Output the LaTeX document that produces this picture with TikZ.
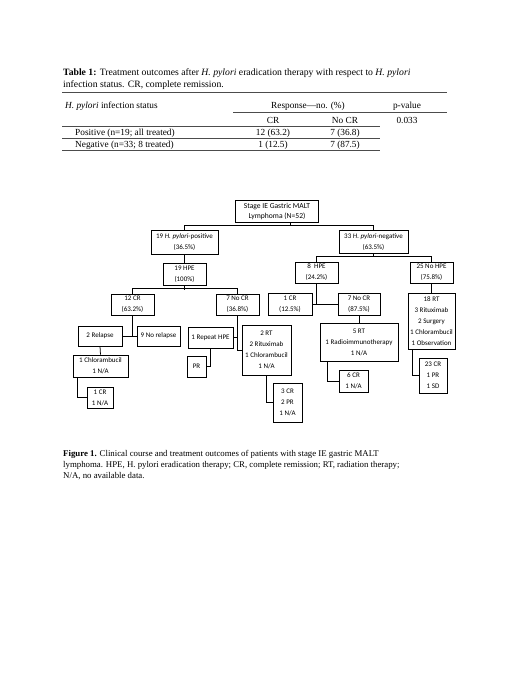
\documentclass[tikz,border=0pt]{standalone}
\usepackage{fontspec}
\setmainfont{Liberation Serif}
\newfontfamily\boxfont{Carlito}
\begin{document}
\begin{tikzpicture}[x=1pt,y=-1pt,
  bx/.style={draw, line width=0.75pt, inner sep=0pt, align=center, font=\boxfont\fontsize{7}{11}\selectfont},
  ln/.style={line width=0.75pt},
  rl/.style={line width=0.6pt, draw=black!70},
  tx/.style={inner sep=0pt, font=\fontsize{9.3}{11}\selectfont},
  captxt/.style={inner sep=0pt, anchor=base west},
]
\fill[white] (0,0) rectangle (520,673);
\useasboundingbox (0,0) rectangle (520,673);

% ---------- Table caption ----------
\node[captxt, font=\fontsize{9.7}{11}\selectfont] (tc1) at (63,75.5) {\textbf{Table 1:} Treatment outcomes after \textit{H. pylori} eradication therapy with respect to \textit{H. pylori}};
\node[captxt, font=\fontsize{9.7}{11}\selectfont] (tc2) at (63,87) {infection status. CR, complete remission.};

% ---------- Table ----------
\draw[rl] (62,92.7) -- (447,92.7);
\draw[rl] (233,112.7) -- (447,112.7);
\draw[rl] (62,126) -- (380,126);
\draw[rl] (62,138) -- (380,138);
\draw[rl] (62,150) -- (380,150);

\node[tx, anchor=base west] (th1) at (65,108) {\textit{H. pylori} infection status};
\node[tx, anchor=base] (th2) at (308,108) {Response---no. (\%)};
\node[tx, anchor=base] (th3) at (407,108) {p-value};
\node[tx, anchor=base] (th4) at (273,123) {CR};
\node[tx, anchor=base] (th5) at (345,123) {No CR};
\node[tx, anchor=base] (tp) at (407,123) {0.033};
\node[tx, anchor=base west] (r1) at (75,135.5) {Positive (n=19; all treated)};
\node[tx, anchor=base] (r1a) at (273,135.5) {12 (63.2)};
\node[tx, anchor=base] (r1b) at (345,135.5) {7 (36.8)};
\node[tx, anchor=base west] (r2) at (75,147.5) {Negative (n=33; 8 treated)};
\node[tx, anchor=base] (r2a) at (273,147.5) {1 (12.5)};
\node[tx, anchor=base] (r2b) at (345,147.5) {7 (87.5)};

% ---------- Tree ----------
\node[bx, font=\boxfont\fontsize{7.6}{10}\selectfont, minimum width=83, minimum height=22] (root) at (277,211) {Stage IE Gastric MALT\\Lymphoma (N=52)};
\node[bx, minimum width=67, minimum height=24] (pos) at (184.5,242) {19 \textit{H. pylori}-positive\\(36.5\%)};
\node[bx, minimum width=69, minimum height=23] (neg) at (373.5,242) {33 \textit{H. pylori}-negative\\(63.5\%)};
\node[bx, minimum width=43, minimum height=22] (hpe19) at (184.5,274) {19 HPE\\(100\%)};
\node[bx, minimum width=43, minimum height=21] (cr12) at (132.5,304.5) {12 CR\\(63.2\%)};
\node[bx, minimum width=43, minimum height=21] (nocr7) at (237.5,304.5) {7 No CR\\(36.8\%)};
\node[bx, minimum width=44, minimum height=20] (relapse) at (100,336) {2 Relapse};
\node[bx, minimum width=43, minimum height=20] (norelapse) at (158.5,336) {9 No relapse};
\node[bx, minimum width=55, minimum height=22] (chl) at (100.5,366) {1 Chlorambucil\\1 N/A};
\node[bx, minimum width=26, minimum height=21] (cr1) at (100,397.5) {1 CR\\1 N/A};
\node[bx, minimum width=45, minimum height=21] (repeat) at (210.5,337.5) {1 Repeat HPE};
\node[bx, minimum width=19, minimum height=21] (pr) at (196.5,366.5) {PR};
\node[bx, minimum width=49, minimum height=50] (rt2) at (266.5,350) {2 RT\\2 Rituximab\\1 Chlorambucil\\1 N/A};
\node[bx, minimum width=29, minimum height=39] (cr3) at (287.5,402.5) {3 CR\\2 PR\\1 N/A};
\node[bx, minimum width=43, minimum height=21] (hpe8) at (316.5,272.5) {8~ HPE\\(24.2\%)};
\node[bx, minimum width=43, minimum height=21] (nohpe25) at (431.5,272.5) {25 No HPE\\(75.8\%)};
\node[bx, minimum width=44, minimum height=22] (cr1b) at (290,304) {1 CR\\(12.5\%)};
\node[bx, minimum width=42, minimum height=22] (nocr7b) at (359,304) {7 No CR\\(87.5\%)};
\node[bx, minimum width=78, minimum height=38] (rt5) at (359,342) {5 RT\\1 Radioimmunotherapy\\1 N/A};
\node[bx, minimum width=29, minimum height=22] (cr6) at (353.5,381) {6 CR\\1 N/A};
\node[bx, minimum width=47, minimum height=56] (rt18) at (431.5,321) {18 RT\\3 Rituximab\\2 Surgery\\1 Chlorambucil\\1 Observation};
\node[bx, minimum width=28, minimum height=35] (cr23) at (433,375.5) {23 CR\\1 PR\\1 SD};

% connectors
\coordinate (j0) at (290,226);
\draw[ln] (j0 |- root.south) -- (j0);
\draw[ln] (pos.north) -- ++(0,-4) -| (neg.north);
\draw[ln] (pos.south) -- (hpe19.north);
\draw[ln] (hpe19.south) -- ++(0,4.5);
\draw[ln] (cr12.north) -- ++(0,-5) -| (nocr7.north);
\draw[ln] (cr12.south) -- (cr12.south |- relapse.east);
\draw[ln] (relapse.east) -- (norelapse.west);
\draw[ln] (relapse.south) -- (chl.north);
\draw[ln] ([xshift=5pt]chl.south west) |- (cr1.west);
\draw[ln] (nocr7.south) |- (rt2.west);
\draw[ln] (repeat.east) -- (repeat.east -| nocr7.south);
\draw[ln] (repeat.south) |- (pr.east);
\draw[ln] (rt2.south) |- (cr3.west);
\draw[ln] (neg.south) -- ++(0,3);
\draw[ln] (hpe8.north) -- ++(0,-5) -| (nohpe25.north);
\draw[ln] (hpe8.south) -- (hpe8.south |- cr1b.east);
\draw[ln] (cr1b.east) -- (nocr7b.west);
\draw[ln] (nocr7b.south) -- (rt5.north);
\draw[ln] ([xshift=8pt]rt5.south west) |- (cr6.west);
\draw[ln] (nohpe25.south) -- (rt18.north);
\draw[ln] ([xshift=5pt]rt18.south west) |- (cr23.west);

% ---------- Figure caption ----------
\node[captxt, font=\fontsize{8.8}{11}\selectfont] (fc1) at (63,456) {\textbf{Figure 1.} Clinical course and treatment outcomes of patients with stage IE gastric MALT};
\node[captxt, font=\fontsize{8.8}{11}\selectfont] (fc2) at (63,467) {lymphoma. HPE, H. pylori eradication therapy; CR, complete remission; RT, radiation therapy;};
\node[captxt, font=\fontsize{8.8}{11}\selectfont] (fc3) at (63,478) {N/A, no available data.};
\end{tikzpicture}
\end{document}
